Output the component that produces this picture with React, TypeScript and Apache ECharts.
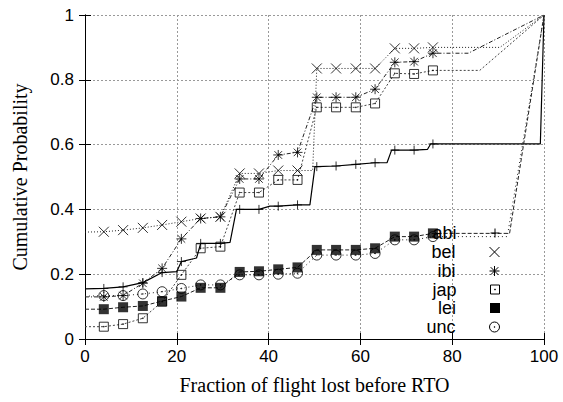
import React, { useEffect, useRef } from "react";
import * as echarts from "echarts";

// Marker positions (fraction of flight lost, %)
const markerX = [4.1, 8.3, 12.6, 16.8, 21.0, 25.2, 29.5, 33.7, 37.9, 42.1, 46.3, 50.5, 54.7, 59.0, 63.2, 67.5, 71.7, 75.8];

const seriesNames = ["abi", "bel", "ibi", "jap", "lei", "unc"];

// Cumulative probability at each marker
const abiY = [0.156, 0.161, 0.174, 0.205, 0.239, 0.295, 0.295, 0.4, 0.4, 0.41, 0.414, 0.532, 0.534, 0.539, 0.544, 0.583, 0.583, 0.602];
const belY = [0.331, 0.336, 0.343, 0.352, 0.362, 0.372, 0.377, 0.511, 0.511, 0.52, 0.52, 0.835, 0.835, 0.835, 0.835, 0.897, 0.897, 0.9];
const ibiY = [0.13, 0.134, 0.172, 0.218, 0.309, 0.372, 0.377, 0.494, 0.494, 0.568, 0.576, 0.746, 0.746, 0.746, 0.771, 0.854, 0.856, 0.882];
const japY = [0.038, 0.046, 0.064, 0.115, 0.198, 0.28, 0.285, 0.452, 0.452, 0.491, 0.491, 0.715, 0.715, 0.715, 0.727, 0.82, 0.818, 0.829];
const leiY = [0.092, 0.098, 0.102, 0.117, 0.131, 0.158, 0.158, 0.207, 0.209, 0.215, 0.221, 0.275, 0.275, 0.275, 0.28, 0.316, 0.316, 0.326];
const uncY = [0.134, 0.134, 0.139, 0.146, 0.156, 0.167, 0.167, 0.198, 0.198, 0.2, 0.203, 0.259, 0.259, 0.259, 0.264, 0.306, 0.306, 0.316];

// Line vertices between markers (no marker drawn)
const abiExtra = [[0, 0.155], [20.0, 0.208], [24.3, 0.25], [31.6, 0.298], [33.0, 0.4], [40.3, 0.41], [49.0, 0.414], [50.1, 0.532], [65.8, 0.544], [66.8, 0.583], [74.6, 0.585], [75.3, 0.602], [99.2, 0.602], [100, 1]];
const belExtra = [[0, 0.33], [49.6, 0.52], [90.4, 0.9], [100, 1]];
const ibiExtra = [[0, 0.13], [83.5, 0.882], [100, 1]];
const japExtra = [[0, 0.038], [86.0, 0.829], [100, 1]];
const leiExtra = [[0, 0.092], [92.5, 0.326], [100, 1]];
const uncExtra = [[0, 0.132], [92.0, 0.316], [100, 1]];

const markerYs = [abiY, belY, ibiY, japY, leiY, uncY];
const extras = [abiExtra, belExtra, ibiExtra, japExtra, leiExtra, uncExtra];

const SANS = "Liberation Sans";
const SERIF = "Liberation Serif";

const symbols = [
  "path://M5,0L5,10M0,5L10,5",
  "path://M0,0L10,10M10,0L0,10",
  "path://M5,0L5,10M0,5L10,5M1.2,1.2L8.8,8.8M8.8,1.2L1.2,8.8",
  "path://M0,0L10,0L10,10L0,10ZM4.6,4.6L5.4,4.6L5.4,5.4L4.6,5.4Z",
  "rect",
  "path://M0,5A5,5,0,1,1,10,5A5,5,0,1,1,0,5ZM4.6,5A0.4,0.4,0,1,1,5.4,5A0.4,0.4,0,1,1,4.6,5Z",
];
const symbolSizes = [9, 10, 10, 9, 10, 10];
const hollow = [false, false, false, true, false, true];
const lineStyles: any[] = [
  { color: "#000", width: 1.2, type: "solid" },
  { color: "#222", width: 1, type: [1, 2] },
  { color: "#222", width: 1, type: [4, 2, 1, 2] },
  { color: "#444", width: 1, type: [2, 2] },
  { color: "#222", width: 1, type: [4, 2] },
  { color: "#222", width: 1, type: [1, 3] },
];
const legendRows = [233, 252, 271, 289.5, 308, 327];

export default function App() {
  const ref = useRef<HTMLDivElement>(null);
  useEffect(() => {
    if (!ref.current) return;
    const chart = echarts.init(ref.current, null, { renderer: "svg" });

    const itemStyleFor = (i: number) =>
      hollow[i]
        ? { color: "rgba(0,0,0,0)", borderColor: "#000", borderWidth: 1 }
        : i === 4
        ? { color: "#000", borderWidth: 0 }
        : { color: "#000", borderColor: "#000", borderWidth: 1 };

    const series: any[] = [];
    seriesNames.forEach((name, i) => {
      const markers = markerX.map((x, j) => [x, markerYs[i][j]]);
      const verts = markers.concat(extras[i] as number[][]).sort((a, b) => a[0] - b[0]);
      series.push({
        type: "line",
        name,
        data: verts,
        showSymbol: false,
        symbol: "none",
        lineStyle: lineStyles[i],
        itemStyle: itemStyleFor(i),
        silent: true,
        z: 2,
      });
    });
    seriesNames.forEach((name, i) => {
      series.push({
        type: "scatter",
        name,
        data: markerX.map((x, j) => [x, markerYs[i][j]]),
        symbol: symbols[i],
        symbolSize: symbolSizes[i],
        itemStyle: itemStyleFor(i),
        silent: true,
        z: 3 + i,
      });
    });

    const legends = seriesNames.map((name, i) => ({
      data: [{ name, icon: symbols[i], itemStyle: itemStyleFor(i) }],
      orient: "vertical",
      align: "right",
      right: 63,
      top: legendRows[i] - 9,
      itemWidth: symbolSizes[i],
      itemHeight: symbolSizes[i],
      padding: 0,
      selectedMode: false,
      textStyle: { fontFamily: SANS, fontSize: 18, color: "#000", padding: [0, 29, 0, 0] },
    }));

    const axisCommon = {
      axisLine: { show: true, lineStyle: { color: "#000", width: 1 } },
      axisTick: { show: true, inside: true, length: 6, lineStyle: { color: "#000", width: 1 } },
    };

    chart.setOption({
      animation: false,
      backgroundColor: "#fff",
      grid: { left: 85, right: 19, top: 15, bottom: 63, show: false },
      legend: legends,
      xAxis: [
        {
          type: "value",
          min: 0,
          max: 100,
          interval: 20,
          position: "bottom",
          ...axisCommon,
          axisLabel: { fontFamily: SANS, fontSize: 17, color: "#000", margin: 9 },
          splitLine: { show: true, lineStyle: { color: "#999", type: [2, 2], width: 1 } },
          name: "Fraction of flight lost before RTO",
          nameLocation: "middle",
          nameGap: 36,
          nameTextStyle: { fontFamily: SERIF, fontSize: 20, color: "#000" },
        },
        {
          type: "value",
          min: 0,
          max: 100,
          interval: 20,
          position: "top",
          ...axisCommon,
          axisLabel: { show: false },
          splitLine: { show: false },
        },
      ],
      yAxis: [
        {
          type: "value",
          min: 0,
          max: 1,
          interval: 0.2,
          position: "left",
          ...axisCommon,
          axisLabel: { fontFamily: SANS, fontSize: 17, color: "#000", margin: 11 },
          splitLine: { show: true, lineStyle: { color: "#999", type: [2, 2], width: 1 } },
          name: "Cumulative Probability",
          nameLocation: "middle",
          nameGap: 55,
          nameTextStyle: { fontFamily: SERIF, fontSize: 20, color: "#000" },
        },
        {
          type: "value",
          min: 0,
          max: 1,
          interval: 0.2,
          position: "right",
          ...axisCommon,
          axisLabel: { show: false },
          splitLine: { show: false },
        },
      ],
      series,
    });
    return () => chart.dispose();
  }, []);
  return (
    <div
      ref={ref}
      style={{ position: "fixed", left: 0, top: 0, width: 563, height: 402, background: "#fff" }}
    />
  );
}
